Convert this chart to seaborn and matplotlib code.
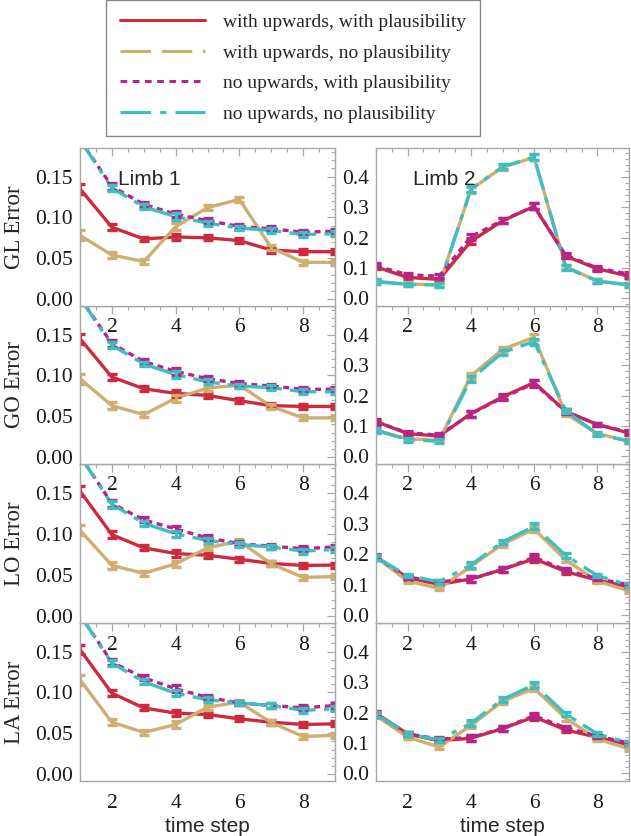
import matplotlib
matplotlib.use("Agg")
import matplotlib.pyplot as plt
import matplotlib.ticker as mticker
from matplotlib.lines import Line2D
import pandas as pd
import seaborn as sns

steps = [1, 2, 3, 4, 5, 6, 7, 8, 9]
series_names = [
    "with upwards, with plausibility",
    "with upwards, no plausibility",
    "no upwards, with plausibility",
    "no upwards, no plausibility",
]
metrics = ["GL", "GO", "LO", "LA"]

# rows: red, tan, magenta, cyan (same order as series_names)
gl_limb1 = [
    [0.135, 0.088, 0.0736, 0.076, 0.075, 0.0716, 0.060, 0.058, 0.058],
    [0.078, 0.054, 0.046, 0.0886, 0.112, 0.122, 0.063, 0.045, 0.045],
    [0.195, 0.138, 0.116, 0.104, 0.096, 0.089, 0.086, 0.082, 0.083],
    [0.195, 0.136, 0.113, 0.101, 0.093, 0.087, 0.084, 0.079, 0.080],
]
gl_limb2 = [
    [0.104, 0.069, 0.0625, 0.188, 0.255, 0.303, 0.139, 0.0975, 0.073],
    [0.056, 0.047, 0.045, 0.358, 0.432, 0.464, 0.104, 0.057, 0.045],
    [0.107, 0.078, 0.073, 0.203, 0.257, 0.303, 0.142, 0.100, 0.080],
    [0.055, 0.046, 0.044, 0.360, 0.433, 0.465, 0.102, 0.057, 0.044],
]
go_limb1 = [
    [0.145, 0.098, 0.0837, 0.078, 0.0755, 0.069, 0.063, 0.062, 0.062],
    [0.096, 0.063, 0.052, 0.072, 0.0845, 0.088, 0.062, 0.048, 0.048],
    [0.195, 0.139, 0.117, 0.105, 0.096, 0.090, 0.087, 0.083, 0.083],
    [0.195, 0.137, 0.114, 0.101, 0.092, 0.087, 0.085, 0.080, 0.080],
]
go_limb2 = [
    [0.115, 0.075, 0.067, 0.141, 0.196, 0.243, 0.148, 0.105, 0.077],
    [0.086, 0.058, 0.053, 0.265, 0.352, 0.392, 0.140, 0.075, 0.050],
    [0.113, 0.078, 0.070, 0.140, 0.193, 0.240, 0.148, 0.105, 0.080],
    [0.086, 0.055, 0.050, 0.254, 0.342, 0.378, 0.150, 0.073, 0.050],
]
lo_limb1 = [
    [0.152, 0.099, 0.083, 0.076, 0.074, 0.069, 0.064, 0.0615, 0.062],
    [0.1045, 0.0615, 0.052, 0.0635, 0.083, 0.091, 0.0635, 0.047, 0.048],
    [0.195, 0.137, 0.117, 0.106, 0.095, 0.088, 0.085, 0.082, 0.084],
    [0.195, 0.136, 0.113, 0.100, 0.092, 0.087, 0.084, 0.079, 0.081],
]
lo_limb2 = [
    [0.192, 0.123, 0.101, 0.119, 0.150, 0.185, 0.143, 0.115, 0.093],
    [0.190, 0.112, 0.088, 0.160, 0.233, 0.282, 0.181, 0.112, 0.080],
    [0.190, 0.125, 0.110, 0.118, 0.150, 0.190, 0.148, 0.120, 0.100],
    [0.190, 0.130, 0.110, 0.165, 0.240, 0.291, 0.196, 0.130, 0.099],
]
la_limb1 = [
    [0.1525, 0.099, 0.081, 0.0746, 0.073, 0.0676, 0.0635, 0.0607, 0.0615],
    [0.1156, 0.0635, 0.051, 0.0607, 0.082, 0.088, 0.063, 0.046, 0.0475],
    [0.195, 0.137, 0.118, 0.1045, 0.094, 0.087, 0.084, 0.081, 0.084],
    [0.195, 0.136, 0.113, 0.099, 0.091, 0.087, 0.084, 0.078, 0.080],
]
la_limb2 = [
    [0.198, 0.130, 0.107, 0.116, 0.147, 0.186, 0.143, 0.119, 0.094],
    [0.190, 0.119, 0.087, 0.158, 0.237, 0.280, 0.181, 0.113, 0.081],
    [0.195, 0.130, 0.113, 0.118, 0.148, 0.190, 0.150, 0.123, 0.100],
    [0.195, 0.130, 0.110, 0.165, 0.243, 0.292, 0.195, 0.130, 0.100],
]
limb1_err = [0.006, 0.004, 0.003, 0.004, 0.003, 0.003, 0.003, 0.003, 0.003]
limb2_err = [0.008, 0.006, 0.006, 0.010, 0.008, 0.010, 0.007, 0.006, 0.006]

colors = ["#cd2a3e", "#cfae72", "#b5248c", "#3cbfc0"]
# the panels draw the tan series solid, only the legend key is dashed
panel_dashes = ["", "", (1.8, 1.4), (8, 2.5, 1.6, 2.5)]
legend_dashes = ["", (10, 3.5), (2.2, 1.8), (10, 3, 2, 3)]

tables = {
    ("GL", 1): gl_limb1, ("GL", 2): gl_limb2,
    ("GO", 1): go_limb1, ("GO", 2): go_limb2,
    ("LO", 1): lo_limb1, ("LO", 2): lo_limb2,
    ("LA", 1): la_limb1, ("LA", 2): la_limb2,
}

records = []
for (metric, limb), table in tables.items():
    for name, vals in zip(series_names, table):
        for s, v in zip(steps, vals):
            records.append({"metric": metric, "limb": limb, "series": name, "step": s, "error": v})
df = pd.DataFrame(records)

sns.set_style("white")
plt.rcParams["font.family"] = ["Liberation Serif", "DejaVu Serif"]

palette = dict(zip(series_names, colors))
dashes = dict(zip(series_names, panel_dashes))
gray = "#a8a8a8"

fig = plt.figure(figsize=(6.31, 8.36), dpi=100)
W, H = 631, 836
col_x = {1: (80, 335), 2: (376, 629)}
row_y = [(148, 306), (306, 464), (464, 623), (623, 781)]

for r, metric in enumerate(metrics):
    for limb in (1, 2):
        x0, x1 = col_x[limb]
        y0, y1 = row_y[r]
        ax = fig.add_axes([x0 / W, 1 - y1 / H, (x1 - x0) / W, (y1 - y0) / H])
        ax.set_zorder(20 - 4 * r + limb)
        sub = df[(df.metric == metric) & (df.limb == limb)]
        sns.lineplot(
            data=sub, x="step", y="error", hue="series", style="series",
            hue_order=series_names, style_order=series_names,
            palette=palette, dashes=dashes, linewidth=2.4, legend=False, ax=ax,
        )
        err = limb1_err if limb == 1 else limb2_err
        for name, vals in zip(series_names, tables[(metric, limb)]):
            ax.errorbar(steps, vals, yerr=err, fmt="none", ecolor=palette[name],
                        elinewidth=2.2, capsize=3.5, capthick=2.4)

        ax.set_xlim(1, 9)
        ax.xaxis.set_major_locator(mticker.MultipleLocator(2))
        ax.xaxis.set_minor_locator(mticker.MultipleLocator(0.5))
        if limb == 1:
            ax.set_ylim(-0.0085, 0.185)
            ax.yaxis.set_major_locator(mticker.MultipleLocator(0.05))
            ax.yaxis.set_minor_locator(mticker.MultipleLocator(0.01))
            ax.yaxis.set_major_formatter(mticker.FormatStrFormatter("%.2f"))
            ax.set_ylabel(f"{metric} Error", fontsize=16.5)
            ax.yaxis.set_label_coords(-0.215, 0.5)
        else:
            ax.set_ylim(-0.025, 0.495)
            ax.yaxis.set_major_locator(mticker.MultipleLocator(0.1))
            ax.yaxis.set_minor_locator(mticker.MultipleLocator(0.02))
            ax.yaxis.set_major_formatter(mticker.FormatStrFormatter("%.1f"))
            ax.set_ylabel("")
        if r == 3:
            ax.set_xlabel("time step", fontsize=15, family="Liberation Sans")
            ax.xaxis.set_label_coords(0.5, -0.225)
        else:
            ax.set_xlabel("")
        if r == 0:
            ax.text(0.27, 0.80, f"Limb {limb}", transform=ax.transAxes,
                    ha="center", va="center", fontsize=15, family="Liberation Sans")

        ax.tick_params(which="both", direction="in", top=True, right=True,
                       color=gray, labelcolor="#1a1a1a", labelsize=15.5)
        ax.tick_params(axis="x", pad=9)
        ax.tick_params(axis="y", pad=5)
        ax.tick_params(which="major", length=6, width=0.9)
        ax.tick_params(which="minor", length=3, width=0.8)
        for sp in ax.spines.values():
            sp.set_color(gray)
            sp.set_linewidth(1.0)

handles = [Line2D([], [], color=c, linewidth=2.2,
                  linestyle="-" if d == "" else (0, d))
           for c, d in zip(colors, legend_dashes)]
fig.legend(handles, series_names, loc="upper center", bbox_to_anchor=(293 / W, 1.0),
           frameon=True, fancybox=False, edgecolor="#888888", framealpha=1,
           fontsize=14, handlelength=4.4, handletextpad=0.9, labelspacing=0.66,
           borderpad=0.7, borderaxespad=0)

fig.savefig("out.png", dpi=100)
